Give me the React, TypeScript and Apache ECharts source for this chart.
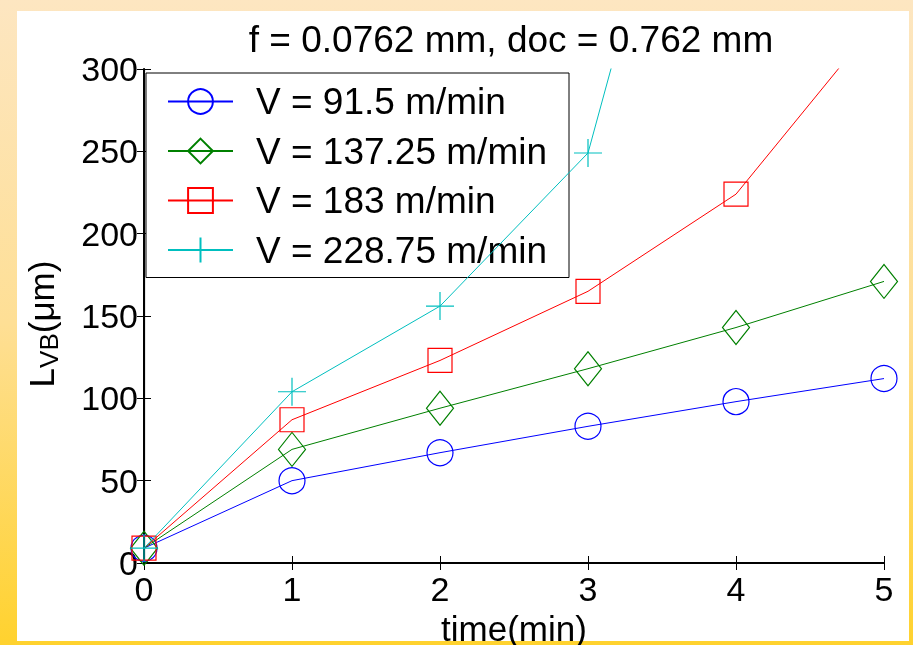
import React, { useEffect, useRef } from "react";
import * as echarts from "echarts";

const timeMin = [0, 1, 2, 3, 4, 5];
const seriesNames = [
  "V = 91.5 m/min",
  "V = 137.25 m/min",
  "V = 183 m/min",
  "V = 228.75 m/min",
];
const vbV915 = [9, 50, 67, 83, 98, 112];
const vbV13725 = [9, 69, 94, 118, 143, 171];
const vbV183 = [9, 87, 123, 165, 224, 334];
const vbV22875 = [9, 104, 156, 249, 578];
const xTicks = [0, 1, 2, 3, 4, 5];
const yTicks = [0, 50, 100, 150, 200, 250, 300];
const titleText = "f = 0.0762 mm, doc = 0.762 mm";
const xName = "time(min)";

const FONT = "'Liberation Sans', Arial, Helvetica, sans-serif";

export default function App() {
  const ref = useRef<HTMLDivElement>(null);
  useEffect(() => {
    if (!ref.current) return;
    const chart = echarts.init(ref.current, null, { renderer: "svg" });
    const pairs = (ys: number[]) => ys.map((y, i) => [timeMin[i], y]);
    const colors = ["#0000ff", "#008000", "#ff0000", "#00bfbf"];
    const symbols = [
      "circle",
      "diamond",
      "rect",
      "path://M0,10L20,10M10,0L10,20",
    ];
    const sizes: any[] = [26, [27, 34], 24, 28];
    const datas = [vbV915, vbV13725, vbV183, vbV22875];
    const xMin = xTicks[0];
    const xMax = xTicks[xTicks.length - 1];
    const xInt = xTicks[1] - xTicks[0];
    const yMin = yTicks[0];
    const yMax = yTicks[yTicks.length - 1];
    const yInt = yTicks[1] - yTicks[0];
    const baseAxis = {
      type: "value" as const,
      splitLine: { show: false },
      axisLine: { show: true, lineStyle: { color: "#000", width: 1.5 } },
      axisTick: { show: true, inside: true, length: 7, lineStyle: { color: "#000", width: 1 } },
    };
    chart.setOption({
      animation: false,
      textStyle: { fontFamily: FONT },
      graphic: [
        {
          type: "rect",
          z: -20,
          silent: true,
          shape: { x: 0, y: 0, width: 913, height: 645 },
          style: {
            fill: new echarts.graphic.LinearGradient(0, 0, 0, 1, [
              { offset: 0, color: "#fde6c1" },
              { offset: 0.5, color: "#fedf95" },
              { offset: 1, color: "#ffd22e" },
            ]),
          },
        },
        {
          type: "rect",
          z: -19,
          silent: true,
          shape: { x: 17, y: 11, width: 892, height: 630 },
          style: { fill: "#ffffff" },
        },
        {
          type: "text",
          x: 511,
          y: 39,
          style: {
            text: titleText,
            fontSize: 37,
            fontFamily: FONT,
            fill: "#000",
            textAlign: "center",
            textVerticalAlign: "middle",
          },
        },
      ],
      grid: {
        left: 144,
        top: 69,
        right: 29,
        bottom: 82,
        containLabel: false,
        outerBoundsMode: "none",
      },
      legend: {
        orient: "vertical",
        left: 146,
        top: 73,
        padding: [10, 22, 9, 21],
        itemWidth: 65,
        itemHeight: 31,
        itemGap: 12.5,
        backgroundColor: "#fff",
        borderColor: "#000",
        borderWidth: 1,
        borderRadius: 0,
        data: seriesNames,
        textStyle: {
          fontSize: 37,
          color: "#000",
          fontFamily: FONT,
          padding: [0, 0, 0, 18],
          width: 294,
        },
      },
      xAxis: [
        {
          ...baseAxis,
          position: "bottom",
          min: xMin,
          max: xMax,
          interval: xInt,
          axisLine: { show: true, lineStyle: { color: "#000", width: 2 } },
          axisLabel: { fontSize: 34, color: "#000", margin: 9, fontFamily: FONT },
          name: xName,
          nameLocation: "middle",
          nameGap: 45,
          nameTextStyle: { fontSize: 35, color: "#000", fontFamily: FONT, verticalAlign: "top" },
        },
        {
          ...baseAxis,
          position: "top",
          min: xMin,
          max: xMax,
          interval: xInt,
          axisLine: { show: true, lineStyle: { color: "#000", width: 1.2 } },
          axisLabel: { show: false },
        },
      ],
      yAxis: [
        {
          ...baseAxis,
          position: "left",
          min: yMin,
          max: yMax,
          interval: yInt,
          axisLine: { show: true, lineStyle: { color: "#000", width: 2 } },
          axisLabel: { fontSize: 34, color: "#000", margin: 6, fontFamily: FONT },
          name: "{m|L}{s|VB}{m|(μm)}",
          nameLocation: "middle",
          nameRotate: 90,
          nameGap: 82,
          nameTextStyle: {
            color: "#000",
            fontFamily: FONT,
            padding: [0, 16, 0, 0],
            rich: {
              m: { fontSize: 35, lineHeight: 38, verticalAlign: "top", fontFamily: FONT, color: "#000" },
              s: { fontSize: 26, lineHeight: 26, verticalAlign: "bottom", fontFamily: FONT, color: "#000" },
            },
          },
        },
        {
          ...baseAxis,
          position: "right",
          min: yMin,
          max: yMax,
          interval: yInt,
          axisLine: { show: true, lineStyle: { color: "#000", width: 1.2 } },
          axisLabel: { show: false },
        },
      ],
      series: datas.map((d, i) => ({
        type: "line",
        name: seriesNames[i],
        xAxisIndex: 0,
        yAxisIndex: 0,
        data: pairs(d),
        clip: true,
        symbol: symbols[i],
        symbolSize: sizes[i],
        showAllSymbol: true,
        color: colors[i],
        lineStyle: { color: colors[i], width: 1 },
        itemStyle: { color: "transparent", borderColor: colors[i], borderWidth: 1.2 },
        emphasis: { disabled: true },
        z: 2 + i,
      })),
    });
    return () => chart.dispose();
  }, []);
  return (
    <div
      ref={ref}
      style={{ position: "fixed", left: 0, top: 0, width: 913, height: 645 }}
    />
  );
}
